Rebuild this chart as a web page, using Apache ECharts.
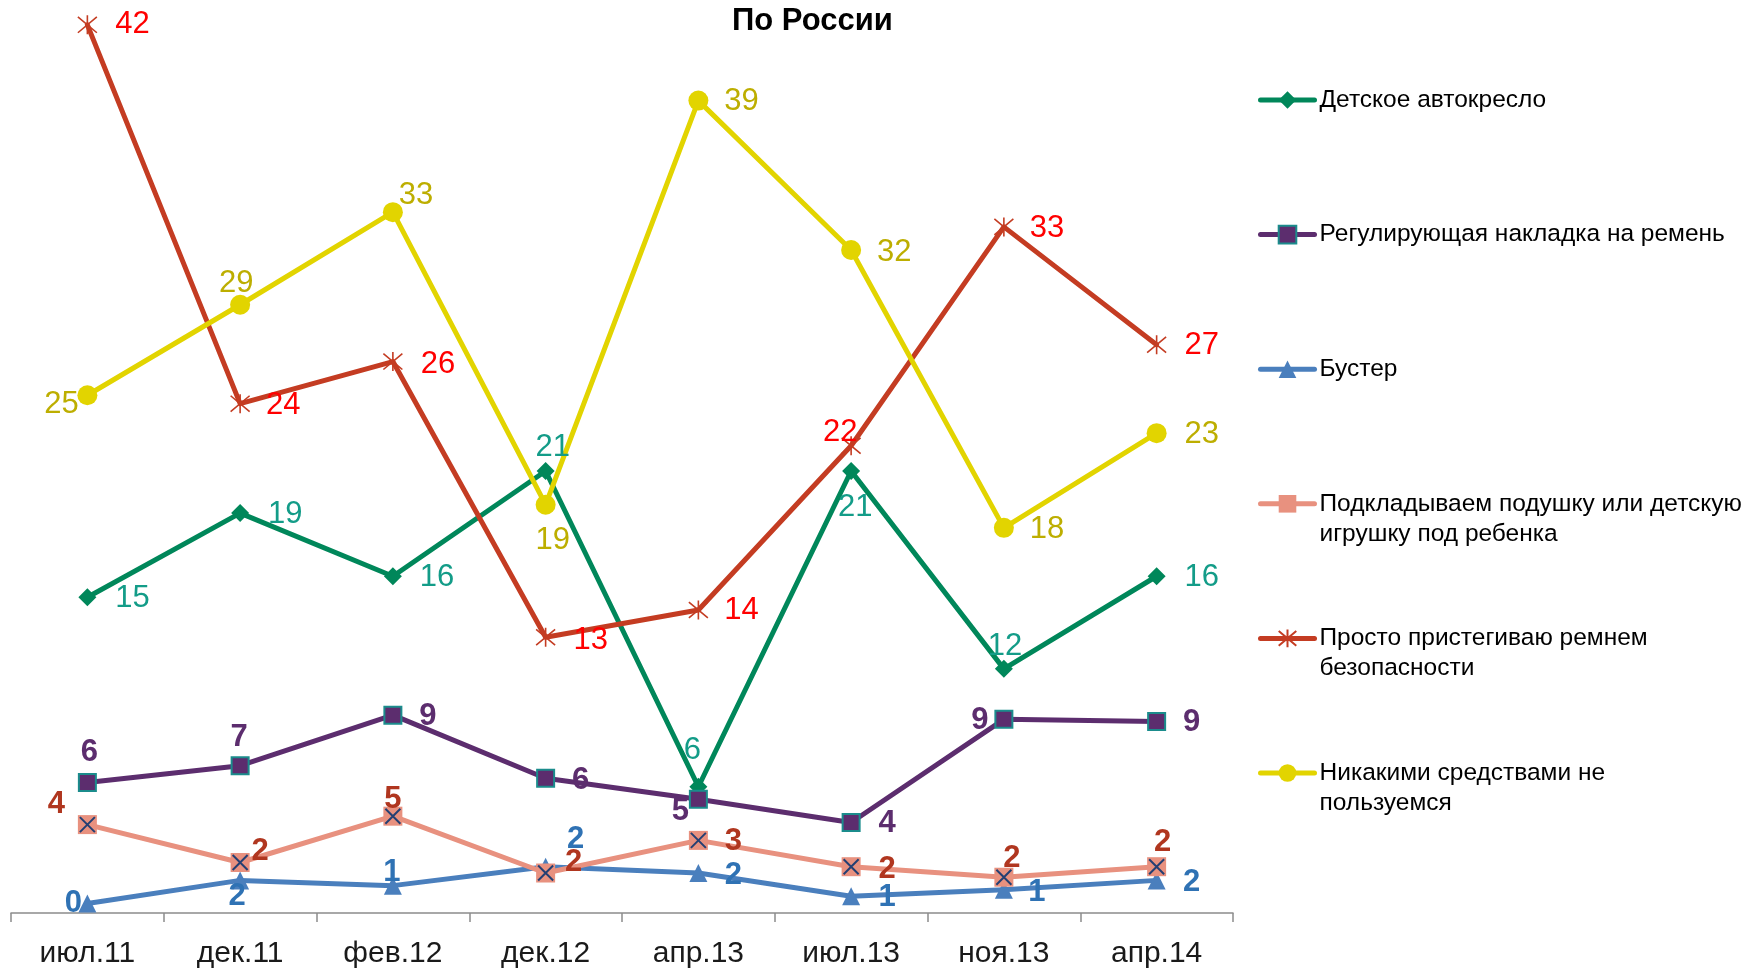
<!DOCTYPE html>
<html lang="ru">

<head>
    <meta charset="UTF-8">
    <title>По России</title>
    <style>
        html,
        body {
            margin: 0;
            padding: 0;
            width: 100%;
            height: 100%;
            background: #fff;
        }
    </style>
</head>

<body>
    <div id="main" style="width: 1745px;height:969px;"></div>
    <script src="https://cdn.jsdelivr.net/npm/echarts/dist/echarts.min.js"></script>
    <script type="text/javascript">
        // периоды опроса
        var periods = ['июл.11', 'дек.11', 'фев.12', 'дек.12', 'апр.13', 'июл.13', 'ноя.13', 'апр.14'];

        // значения по сериям (%, подписи округлены)
        var carSeat = [15, 19, 16, 21, 6, 21, 11.6, 16];
        var beltAdjuster = [6.2, 7.0, 9.4, 6.4, 5.4, 4.3, 9.2, 9.1];
        var booster = [0.45, 1.55, 1.3, 2.2, 1.9, 0.8, 1.1, 1.55];
        var pillow = [4.2, 2.4, 4.6, 1.9, 3.45, 2.2, 1.7, 2.2];
        var beltOnly = [42.2, 24.2, 26.2, 13.1, 14.4, 22.2, 32.6, 27.0];
        var nothing = [24.6, 28.9, 33.3, 19.4, 38.6, 31.5, 18.3, 22.8];

        var names = [
            'Детское автокресло',
            'Регулирующая накладка на ремень',
            'Бустер',
            'Подкладываем подушку или детскую игрушку под ребенка',
            'Просто пристегиваю ремнем безопасности',
            'Никакими средствами не пользуемся'
        ];

        // где стоят подписи относительно точки
        var offGreen = [[45, 1], [45, 1], [44, 1], [7, -24], [-6, -36], [4, 36], [1, -22], [45, 1]];
        var offPurple = [[2, -30], [-1, -28], [35, 1], [35, 2], [-18, 12], [36, 1], [-24, 1], [35, 1]];
        var offBlue = [[-14, 0], [-3, 16], [-1, -13], [30, -27], [35, 2], [36, 1], [33, 3], [35, 2]];
        var offPink = [[-31, -20], [20, -11], [0, -17], [28, -11], [35, 1], [36, 3], [8, -19], [6, -24]];
        var offRed = [[45, 0], [43, 2], [45, 3], [45, 3], [43, 1], [-11, -13], [43, 2], [45, 1]];
        var offYellow = [[-26, 9], [-4, -21], [23, -17], [7, 36], [43, 1], [43, 2], [43, 2], [45, 1]];

        var FONT = "'Liberation Sans', Arial, sans-serif";

        function withLabels(values, offsets) {
            return values.map(function (v, i) {
                return { value: v, label: { offset: offsets[i] } };
            });
        }

        function lineSeries(name, values, offsets, color, labelColor, bold, symbol, size, extra) {
            var s = {
                name: name,
                type: 'line',
                data: withLabels(values, offsets),
                symbol: symbol,
                symbolSize: size,
                lineStyle: { color: color, width: 5, cap: 'round', join: 'round' },
                itemStyle: { color: color },
                label: {
                    show: true,
                    position: 'inside',
                    formatter: function (p) { return Math.round(p.value); },
                    color: labelColor,
                    fontSize: 31,
                    fontWeight: bold ? 'bold' : 'normal',
                    fontFamily: FONT,
                    textBorderWidth: 0
                },
                emphasis: { disabled: true }
            };
            if (extra) {
                for (var k in extra) s[k] = extra[k];
            }
            return s;
        }

        var myChart = echarts.init(document.getElementById('main'));

        var wrapped = {
            'Подкладываем подушку или детскую игрушку под ребенка': 'Подкладываем подушку или детскую\nигрушку под ребенка',
            'Просто пристегиваю ремнем безопасности': 'Просто пристегиваю ремнем\nбезопасности',
            'Никакими средствами не пользуемся': 'Никакими средствами не\nпользуемся'
        };

        var option = {
            animation: false,
            backgroundColor: '#fff',
            title: {
                text: 'По России',
                left: 727,
                top: 1,
                textStyle: { fontSize: 31, fontWeight: 'bold', color: '#000', fontFamily: FONT }
            },
            legend: {
                orient: 'vertical',
                left: 1258,
                top: 55,
                padding: 0,
                itemWidth: 54,
                itemHeight: 22,
                itemGap: 44.6,
                data: names,
                lineStyle: { width: 5, cap: 'round' },
                formatter: function (name) {
                    // первая строка подписи должна стоять вровень со значком
                    if (wrapped[name]) return ' \n' + wrapped[name];
                    return ' \n' + name + '\n ';
                },
                textStyle: { fontSize: 24.5, lineHeight: 30, color: '#000', fontFamily: FONT }
            },
            grid: {
                left: 11,
                right: 512,
                top: 8,
                bottom: 54
            },
            xAxis: {
                type: 'category',
                data: periods,
                boundaryGap: true,
                axisLine: { show: true, lineStyle: { color: '#8c8c8c', width: 1.5 } },
                axisTick: { show: true, alignWithLabel: false, interval: 0, length: 9, lineStyle: { color: '#8c8c8c', width: 1.5 } },
                axisLabel: { fontSize: 30, margin: 26, color: '#1a1a1a', fontFamily: FONT }
            },
            yAxis: {
                type: 'value',
                min: 0,
                max: 43,
                show: false
            },
            series: [
                lineSeries(names[0], carSeat, offGreen, '#00875a', '#139c88', false, 'diamond', 18),
                lineSeries(names[1], beltAdjuster, offPurple, '#5c2d6e', '#5c2d6e', true, 'rect', 17,
                    { itemStyle: { color: '#5c2d6e', borderColor: '#1b8c8c', borderWidth: 2 } }),
                lineSeries(names[2], booster, offBlue, '#4a7fbd', '#2f72b4', true, 'triangle', 18),
                lineSeries(names[3], pillow, offPink, '#e8917f', '#b0361f', true, 'rect', 19),
                {
                    // синий крестик поверх розового квадрата
                    name: 'pillow-cross',
                    type: 'line',
                    data: pillow,
                    symbol: 'path://M0,0L10,10M10,0L0,10',
                    symbolSize: 15,
                    lineStyle: { opacity: 0, width: 0 },
                    itemStyle: { color: 'rgba(0,0,0,0)', borderColor: '#243f73', borderWidth: 2 },
                    label: { show: false },
                    silent: true,
                    z: 3
                },
                lineSeries(names[4], beltOnly, offRed, '#c43c22', '#ff0000', false,
                    'path://M0,0L10,10M10,0L0,10M5,-1L5,11', 19,
                    { itemStyle: { color: 'rgba(0,0,0,0)', borderColor: '#c43c22', borderWidth: 1.6 } }),
                lineSeries(names[5], nothing, offYellow, '#e2d400', '#bdae00', false, 'circle', 20)
            ]
        };
        myChart.setOption(option);
        window.addEventListener('resize', function () {
            myChart.resize();
        });
    </script>
</body>

</html>
